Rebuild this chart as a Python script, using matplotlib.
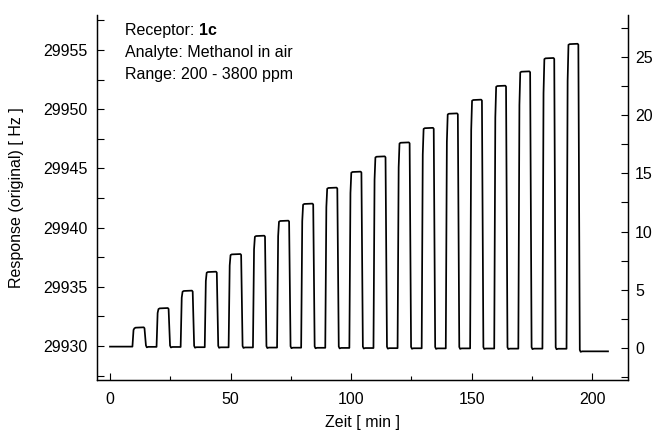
import numpy as np
import matplotlib
matplotlib.use("Agg")
import matplotlib.pyplot as plt
from matplotlib.ticker import MultipleLocator

plt.rcParams['font.family'] = ['Liberation Sans', 'DejaVu Sans']

# --- data ---
on_times = [9.3, 19.3, 29.3, 39.3, 49.2, 59.3, 69.3, 79.3, 89.3, 99.3,
            109.3, 119.3, 129.3, 139.3, 149.4, 159.4, 169.4, 179.4, 189.4]
off_times = [14.3, 24.3, 34.3, 44.3, 54.4, 64.3, 74.3, 84.3, 94.3, 104.3,
             114.3, 124.3, 134.3, 144.3, 154.3, 164.3, 174.3, 184.3, 194.3]
plateau_hz = [29931.55, 29933.18, 29934.65, 29936.25, 29937.74, 29939.29,
              29940.56, 29942.00, 29943.35, 29944.70, 29945.99, 29947.17,
              29948.40, 29949.62, 29950.78, 29951.96, 29953.17, 29954.30,
              29955.50]
baseline_hz = [29929.95, 29929.93, 29929.92, 29929.90, 29929.89, 29929.88,
               29929.87, 29929.86, 29929.85, 29929.84, 29929.83, 29929.82,
               29929.81, 29929.80, 29929.80, 29929.79, 29929.78, 29929.78,
               29929.77, 29929.55]
t_start, t_end = 0.0, 206.6

# build trace vertices from the read levels and switching times
ts, ys = [t_start], [baseline_hz[0]]
for i, (a, b, top) in enumerate(zip(on_times, off_times, plateau_hz)):
    b0 = baseline_hz[i]
    b1 = baseline_hz[i + 1]
    h = top - b0
    ts += [a, a + 0.45, a + 0.8, a + 1.3, b - 0.3, b,
           b + 0.6, b + 0.95, b + 1.6]
    ys += [b0, b0 + 0.88 * h, top - 0.06, top, top + 0.03, top - 0.05,
           b1 + 0.12, b1 - 0.04, b1]
    nxt = on_times[i + 1] if i + 1 < len(on_times) else t_end
    ts.append(nxt)
    ys.append(b1)

fig = plt.figure(figsize=(6.54, 4.32), dpi=100)
ax = fig.add_axes([97 / 654, 1 - 380 / 432, (628 - 97) / 654, (380 - 15) / 432])
ax.plot(ts, ys, color='black', lw=1.25)

ax.set_xlim(-5.4, 214.9)
ax.set_ylim(29927.13, 29957.96)
ax.xaxis.set_major_locator(MultipleLocator(50))
ax.xaxis.set_minor_locator(MultipleLocator(25))
ax.yaxis.set_major_locator(MultipleLocator(5))
ax.yaxis.set_minor_locator(MultipleLocator(2.5))
ax.tick_params(axis='x', which='major', direction='in', length=5, width=0.8,
               labelsize=11.5, pad=8.5, top=False)
ax.tick_params(axis='x', which='minor', direction='in', length=3, width=0.8, top=False)
ax.tick_params(axis='y', which='major', direction='in', length=5, width=0.8,
               labelsize=11.5, pad=6.5, right=False)
ax.tick_params(axis='y', which='minor', direction='in', length=5, width=0.8, right=False)
ax.spines['top'].set_visible(False)
for s in ax.spines.values():
    s.set_linewidth(0.9)

ax2 = ax.twinx()
ax2.set_ylim(-2.75, 28.6)
ax2.yaxis.set_major_locator(MultipleLocator(5))
ax2.yaxis.set_minor_locator(MultipleLocator(2.5))
ax2.tick_params(axis='y', which='major', direction='in', length=5, width=0.8,
                labelsize=11.5, pad=5)
ax2.tick_params(axis='y', which='minor', direction='in', length=5, width=0.8)
ax2.spines['top'].set_visible(False)
for s in ax2.spines.values():
    s.set_linewidth(0.9)

ax.set_xlabel('Zeit [ min ]', fontsize=11.5, labelpad=6)
ax.set_ylabel('Response (original) [ Hz ]', fontsize=11.5, labelpad=14)

ax.text(0.053, 0.958, 'Receptor: ', transform=ax.transAxes, fontsize=11.5,
        va='center', ha='left')
ax.annotate('1c', xy=(1, 0.5), xycoords=ax.texts[-1], fontsize=11.5,
            fontweight='bold', va='center', ha='left')
ax.text(0.053, 0.898, 'Analyte: Methanol in air', transform=ax.transAxes,
        fontsize=11.5, va='center', ha='left')
ax.text(0.053, 0.838, 'Range: 200 - 3800 ppm', transform=ax.transAxes,
        fontsize=11.5, va='center', ha='left')

fig.savefig('out.png', dpi=100)
